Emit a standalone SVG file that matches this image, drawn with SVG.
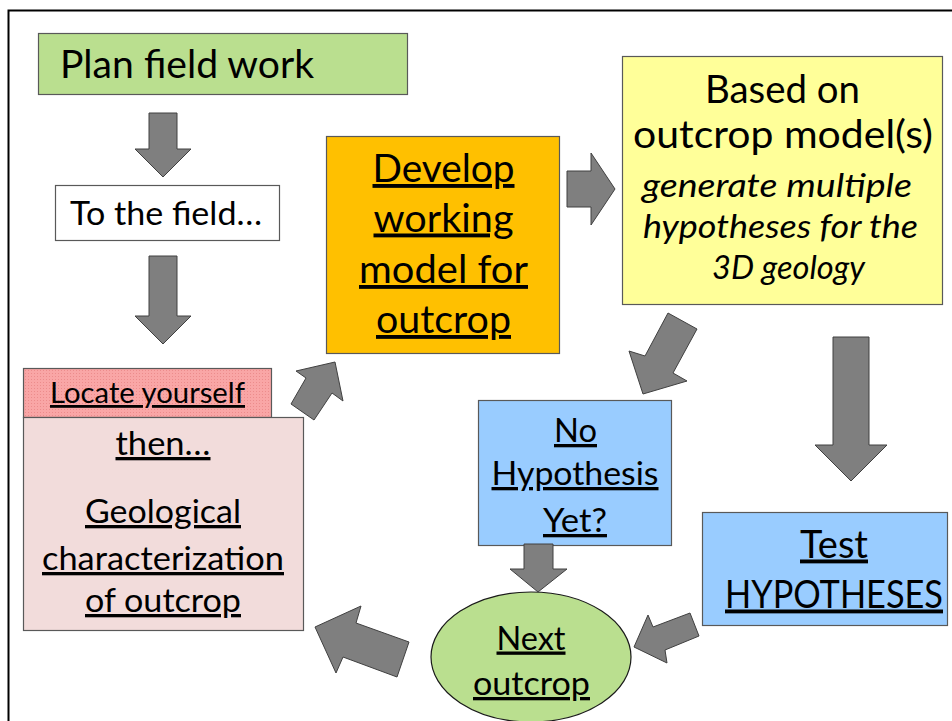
<svg xmlns="http://www.w3.org/2000/svg" width="952" height="721" viewBox="0 0 952 721">
<defs>
<pattern id="dots" width="3" height="3" patternUnits="userSpaceOnUse">
<rect width="3" height="3" fill="#F9A6A6"/>
<rect x="1" y="1" width="1" height="1" fill="#EC8C8C"/>
</pattern>
<style>
.box{stroke:#595959;stroke-width:1.2}
.t{font-family:Lato,"Open Sans",sans-serif;fill:#000;text-anchor:middle}
.u{text-decoration:underline}
.i{font-style:italic}
.big{font-size:38.6px}
.med{font-size:33px}
.sm{font-size:28px}
.arr{fill:#7F7F7F;stroke:#404040;stroke-width:1;stroke-linejoin:miter}
</style>
</defs>
<rect width="952" height="721" fill="#fff"/>
<rect x="8.5" y="10.5" width="970" height="740" fill="none" stroke="#000" stroke-width="2"/>

<g id="plan">
<rect class="box" x="38.5" y="33.5" width="369" height="61" fill="#BADF8F"/>
<text class="t big" x="187" y="78" textLength="254" lengthAdjust="spacingAndGlyphs">Plan field work</text>
</g>

<g id="tofield">
<rect class="box" x="55.5" y="185.5" width="224" height="55" fill="#fff"/>
<text class="t med" x="166" y="225" textLength="192" lengthAdjust="spacingAndGlyphs">To the field…</text>
</g>

<g id="locate">
<rect class="box" x="23.5" y="368.5" width="248" height="49" fill="url(#dots)"/>
<text class="t sm u" x="147.5" y="403" textLength="195" lengthAdjust="spacingAndGlyphs">Locate yourself</text>
</g>

<g id="geo">
<rect class="box" x="23.5" y="417.5" width="280" height="213" fill="#F2DCDB"/>
<text class="t med u" x="163" y="455" textLength="95" lengthAdjust="spacingAndGlyphs">then…</text>
<text class="t med u" x="163" y="523" textLength="156" lengthAdjust="spacingAndGlyphs">Geological</text>
<text class="t med u" x="163" y="570" textLength="242" lengthAdjust="spacingAndGlyphs">characterization</text>
<text class="t med u" x="163" y="612" textLength="156" lengthAdjust="spacingAndGlyphs">of outcrop</text>
</g>

<g id="develop">
<rect class="box" x="326.5" y="136.5" width="233" height="217" fill="#FFC000"/>
<text class="t big u" x="443.5" y="182" textLength="142" lengthAdjust="spacingAndGlyphs">Develop</text>
<text class="t big u" x="443.5" y="231.5" textLength="140" lengthAdjust="spacingAndGlyphs">working</text>
<text class="t big u" x="443.5" y="283" textLength="169" lengthAdjust="spacingAndGlyphs">model for</text>
<text class="t big u" x="443.5" y="333" textLength="135" lengthAdjust="spacingAndGlyphs">outcrop</text>
</g>

<g id="based">
<rect class="box" x="622.5" y="56.5" width="320" height="248" fill="#FFFF99"/>
<text class="t big" x="782.5" y="103" textLength="155" lengthAdjust="spacingAndGlyphs">Based on</text>
<text class="t big" x="783" y="147.5" textLength="300" lengthAdjust="spacingAndGlyphs">outcrop model(s)</text>
<text class="t med i" x="777" y="197" textLength="270" lengthAdjust="spacingAndGlyphs">generate multiple</text>
<text class="t med i" x="780.5" y="238" textLength="275" lengthAdjust="spacingAndGlyphs">hypotheses for the</text>
<text class="t med i" x="788.5" y="279" textLength="153" lengthAdjust="spacingAndGlyphs">3D geology</text>
</g>

<g id="nohyp">
<rect class="box" x="478.5" y="400.5" width="193" height="145" fill="#99CCFF"/>
<text class="t med u" x="575.5" y="442" textLength="43" lengthAdjust="spacingAndGlyphs">No</text>
<text class="t med u" x="575" y="485" textLength="167" lengthAdjust="spacingAndGlyphs">Hypothesis</text>
<text class="t med u" x="575" y="532" textLength="64" lengthAdjust="spacingAndGlyphs">Yet?</text>
</g>

<g id="test">
<rect class="box" x="702.5" y="512.5" width="245" height="113" fill="#99CCFF"/>
<text class="t big u" x="834" y="557.5" textLength="68" lengthAdjust="spacingAndGlyphs">Test</text>
<text class="t big u" x="834" y="607.5" textLength="218" lengthAdjust="spacingAndGlyphs">HYPOTHESES</text>
</g>

<g id="next">
<ellipse cx="531" cy="657" rx="100" ry="65" fill="#BADF8F" stroke="#1a1a1a" stroke-width="1.2"/>
<text class="t med u" x="531" y="649.5" textLength="69" lengthAdjust="spacingAndGlyphs">Next</text>
<text class="t med u" x="531.5" y="695" textLength="117" lengthAdjust="spacingAndGlyphs">outcrop</text>
</g>

<g id="connectors">
<polygon class="arr" points="149,113 177,113 177,149 191,149 163,177 135,149 149,149"/>
<polygon class="arr" points="149,256 177,256 177,316 191,316 163,344 135,316 149,316"/>
<polygon class="arr" points="291,404 306,378 296,371 335,362 343,401 332,393 314,420"/>
<polygon class="arr" points="567,171 591,171 591,153 615,189 591,225 591,207 567,207"/>
<polygon class="arr" points="668,313 697,329 673,373 687,381 643,394 629,351 645,356"/>
<polygon class="arr" points="833,337 869,337 869,445 887,445 851,481 815,445 833,445"/>
<polygon class="arr" points="524,544 553,544 553,569 567,569 538,592 510,569 524,569"/>
<polygon class="arr" points="699,636 690,613 653,627 648,615 634,647 667,663 665,650"/>
<polygon class="arr" points="409,642 356,623 361,606 315,627 336,673 343,657 397,677"/>
</g>
</svg>
